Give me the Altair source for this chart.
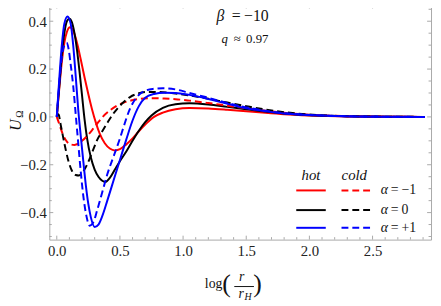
import altair as alt
import pandas as pd

# ---------------- data ----------------
red_hot_x = [0, 0.02, 0.04, 0.06, 0.08, 0.105, 0.13, 0.16, 0.19, 0.22, 0.25, 0.28, 0.31, 0.34, 0.38, 0.42, 0.46, 0.50, 0.55, 0.60, 0.65, 0.71, 0.77, 0.84, 0.94, 1.05, 1.2, 1.35, 1.5, 1.65, 1.8, 2.0, 2.3, 2.6, 2.915]
red_hot_y = [0, 0.12, 0.23, 0.31, 0.355, 0.375, 0.36, 0.31, 0.24, 0.165, 0.095, 0.03, -0.025, -0.07, -0.11, -0.132, -0.14, -0.135, -0.115, -0.09, -0.06, -0.027, 0.0, 0.018, 0.032, 0.037, 0.035, 0.03, 0.024, 0.017, 0.011, 0.006, 0.002, 0.001, 0]

black_hot_x = [0, 0.02, 0.04, 0.06, 0.08, 0.10, 0.12, 0.14, 0.16, 0.18, 0.20, 0.22, 0.24, 0.27, 0.30, 0.33, 0.36, 0.385, 0.42, 0.46, 0.50, 0.55, 0.60, 0.65, 0.70, 0.75, 0.84, 0.94, 1.05, 1.2, 1.35, 1.5, 1.65, 1.8, 2.0, 2.3, 2.6, 2.915]
black_hot_y = [0, 0.13, 0.26, 0.35, 0.40, 0.41, 0.395, 0.35, 0.28, 0.19, 0.09, -0.01, -0.09, -0.17, -0.22, -0.25, -0.267, -0.272, -0.255, -0.22, -0.185, -0.145, -0.10, -0.058, -0.022, 0.006, 0.038, 0.053, 0.057, 0.052, 0.042, 0.032, 0.022, 0.014, 0.007, 0.003, 0.001, 0]

blue_hot_x = [0, 0.02, 0.04, 0.06, 0.085, 0.11, 0.13, 0.15, 0.17, 0.19, 0.21, 0.23, 0.25, 0.27, 0.30, 0.33, 0.36, 0.40, 0.45, 0.50, 0.55, 0.60, 0.65, 0.70, 0.77, 0.85, 0.94, 1.05, 1.25, 1.5, 1.65, 1.8, 2.0, 2.2, 2.5, 2.915]
blue_hot_y = [0, 0.16, 0.30, 0.39, 0.42, 0.39, 0.30, 0.17, 0.03, -0.08, -0.185, -0.285, -0.365, -0.42, -0.46, -0.45, -0.415, -0.35, -0.265, -0.18, -0.095, -0.015, 0.045, 0.08, 0.096, 0.101, 0.10, 0.092, 0.068, 0.036, 0.024, 0.014, 0.008, 0.004, 0.001, 0]

red_cold_x = [0, 0.02, 0.05, 0.08, 0.11, 0.14, 0.17, 0.20, 0.24, 0.28, 0.32, 0.36, 0.42, 0.47, 0.53, 0.60, 0.65, 0.75, 0.85, 0.94, 1.05, 1.2, 1.35, 1.5, 1.65, 1.8, 2.0, 2.3, 2.6, 2.915]
red_cold_y = [0.0, -0.03, -0.075, -0.103, -0.115, -0.117, -0.112, -0.10, -0.08, -0.055, -0.028, -0.002, 0.027, 0.045, 0.06, 0.07, 0.075, 0.078, 0.077, 0.074, 0.068, 0.058, 0.047, 0.036, 0.026, 0.017, 0.009, 0.003, 0.001, 0]

black_cold_x = [0, 0.015, 0.03, 0.06, 0.09, 0.12, 0.15, 0.175, 0.20, 0.23, 0.26, 0.29, 0.32, 0.36, 0.40, 0.44, 0.48, 0.53, 0.58, 0.64, 0.71, 0.80, 0.94, 1.05, 1.2, 1.35, 1.5, 1.65, 1.8, 2.0, 2.3, 2.6, 2.915]
black_cold_y = [0.015, 0.01, -0.03, -0.11, -0.18, -0.225, -0.243, -0.245, -0.235, -0.21, -0.175, -0.135, -0.096, -0.06, -0.025, 0.008, 0.035, 0.062, 0.083, 0.097, 0.104, 0.104, 0.098, 0.09, 0.076, 0.06, 0.045, 0.031, 0.02, 0.01, 0.003, 0.001, 0]

blue_cold_x = [0, 0.02, 0.04, 0.06, 0.078, 0.095, 0.11, 0.13, 0.15, 0.17, 0.19, 0.21, 0.235, 0.26, 0.29, 0.32, 0.36, 0.40, 0.45, 0.50, 0.53, 0.58, 0.63, 0.68, 0.76, 0.84, 0.94, 1.05, 1.2, 1.35, 1.5, 1.65, 1.8, 2.0, 2.3, 2.6, 2.915]
blue_cold_y = [0, 0.14, 0.25, 0.30, 0.31, 0.28, 0.22, 0.13, 0.01, -0.11, -0.23, -0.33, -0.415, -0.455, -0.44, -0.39, -0.315, -0.24, -0.165, -0.09, -0.04, 0.035, 0.08, 0.104, 0.117, 0.12, 0.115, 0.10, 0.08, 0.058, 0.04, 0.026, 0.016, 0.008, 0.003, 0.001, 0]

x_tick_labels = [0, 0.5, 1.0, 1.5, 2.0, 2.5]
x_minor = [0.1, 0.2, 0.3, 0.4, 0.6, 0.7, 0.8, 0.9, 1.1, 1.2, 1.3, 1.4, 1.6, 1.7, 1.8, 1.9, 2.1, 2.2, 2.3, 2.4, 2.6, 2.7, 2.8, 2.9]
y_tick_labels = [-0.4, -0.2, 0.0, 0.2, 0.4]
y_minor = [-0.5, -0.45, -0.35, -0.3, -0.25, -0.15, -0.1, -0.05, 0.05, 0.1, 0.15, 0.25, 0.3, 0.35, 0.45]

alpha_labels = ["−1", "0", "+1"]
series_colors = ["#ff0000", "#000000", "#0000ff"]
legend_heads = ["hot", "cold"]
beta_text = ["β", "=", "−10"]
q_text = ["q", "≈", "0.97"]

# ---------------- chart ----------------
W, H = 388, 239
FONT = "'Liberation Serif', 'Times New Roman', Times, 'DejaVu Serif', serif"
GREY = "#a8a8a8"
DASH = [7, 4]

xs = alt.Scale(domain=[-0.059, 2.963], nice=False, zero=False)
ys = alt.Scale(domain=[-0.513, 0.470], nice=False, zero=False)
xaxis = alt.Axis(values=x_tick_labels, format=".1f", title=None, grid=False, ticks=False,
                 domain=False, labelFont=FONT, labelFontSize=15, labelColor="#222222",
                 labelPadding=4, labelFlush=False, labelOverlap=False)
yaxis = alt.Axis(values=y_tick_labels, format=".1f", title=None, grid=False, ticks=False,
                 domain=False, labelFont=FONT, labelFontSize=15, labelColor="#222222",
                 labelPadding=3, labelFlush=False, labelOverlap=False)


def curve(xv, yv, color, dashed):
    df = pd.DataFrame({"x": xv, "y": yv})
    kw = dict(color=color, strokeWidth=2, interpolate="monotone")
    if dashed:
        kw["strokeDash"] = DASH
    return alt.Chart(df).mark_line(**kw).encode(
        x=alt.X("x:Q", scale=xs, axis=xaxis),
        y=alt.Y("y:Q", scale=ys, axis=yaxis),
    )


def xticks(vals, length):
    df = pd.DataFrame({"x": vals})
    enc = dict(x=alt.X("x:Q", scale=xs, axis=xaxis))
    bot = alt.Chart(df).mark_rule(color=GREY, strokeWidth=1).encode(
        y=alt.value(H), y2=alt.value(H - length), **enc)
    top = alt.Chart(df).mark_rule(color=GREY, strokeWidth=1).encode(
        y=alt.value(0), y2=alt.value(length), **enc)
    return [bot, top]


def yticks(vals, length):
    df = pd.DataFrame({"y": vals})
    enc = dict(y=alt.Y("y:Q", scale=ys, axis=yaxis))
    left = alt.Chart(df).mark_rule(color=GREY, strokeWidth=1).encode(
        x=alt.value(0), x2=alt.value(length), **enc)
    right = alt.Chart(df).mark_rule(color=GREY, strokeWidth=1).encode(
        x=alt.value(W), x2=alt.value(W - length), **enc)
    return [left, right]


def text(t, x, y, size=14, italic=False, align="left", angle=0, color="#111111"):
    kw = dict(font=FONT, fontSize=size, align=align, baseline="alphabetic", color=color)
    if italic:
        kw["fontStyle"] = "italic"
    if angle:
        kw["angle"] = angle
    return alt.Chart(pd.DataFrame({"t": [t]})).mark_text(**kw).encode(
        x=alt.value(x), y=alt.value(y), text="t:N")


layers = []
layers += xticks(x_tick_labels, 4) + xticks(x_minor, 2.5)
layers += yticks(y_tick_labels, 4) + yticks(y_minor, 2.5)

layers += [
    curve(red_hot_x, red_hot_y, series_colors[0], False),
    curve(black_hot_x, black_hot_y, series_colors[1], False),
    curve(red_cold_x, red_cold_y, series_colors[0], True),
    curve(black_cold_x, black_cold_y, series_colors[1], True),
    curve(blue_cold_x, blue_cold_y, series_colors[2], True),
    curve(blue_hot_x, blue_hot_y, series_colors[2], False),
]

# annotations
layers += [
    text(beta_text[0], 170, 17, 16, italic=True),
    text(beta_text[1], 190, 17, 16, align="center"),
    text(beta_text[2], 198, 17, 16),
    text(q_text[0], 175, 39, 13, italic=True),
    text(q_text[1], 191, 39, 13, align="center"),
    text(q_text[2], 200, 39, 13),
]

# legend
layers += [
    text(legend_heads[0], 266, 178, 15, italic=True, align="center"),
    text(legend_heads[1], 310, 178, 15, italic=True, align="center"),
]
row_y = [189, 209, 227]
for lab, col, ry in zip(alpha_labels, series_colors, row_y):
    d = pd.DataFrame({"a": [lab]})
    layers.append(alt.Chart(d).mark_rule(color=col, strokeWidth=2).encode(
        x=alt.value(251), x2=alt.value(281), y=alt.value(ry)))
    layers.append(alt.Chart(d).mark_rule(color=col, strokeWidth=2, strokeDash=DASH).encode(
        x=alt.value(297), x2=alt.value(327), y=alt.value(ry)))
    layers.append(text("α", 337, ry + 4, 14, italic=True))
    layers.append(text("=", 351, ry + 4, 14, align="center"))
    layers.append(text(lab, 358, ry + 4, 14))

# axis titles
layers += [
    text("log", 167, 288, 14, align="center"),
    text("(", 180, 292, 26, align="center"),
    text(")", 211.5, 292, 26, align="center"),
    text("r", 195.5, 281, 14, italic=True, align="center"),
    text("r", 195, 298, 14, italic=True, align="center"),
    text("H", 198.5, 300, 10, italic=True),
    text("U", -29, 122.5, 16, italic=True, align="center", angle=270),
    text("Ω", -27, 111.5, 10, align="center", angle=270),
]
layers.append(alt.Chart(pd.DataFrame({"b": [1]})).mark_rule(color="#111111", strokeWidth=1).encode(
    x=alt.value(188), x2=alt.value(208), y=alt.value(286.7)))

chart = alt.layer(*layers).properties(
    width=W, height=H,
    padding={"left": 42, "top": -6, "right": 2, "bottom": 62},
    autosize=alt.AutoSizeParams(type="none"),
).configure_view(stroke=GREY, strokeWidth=1)

chart.save("out.html", embed_options={"renderer": "svg", "actions": False})
